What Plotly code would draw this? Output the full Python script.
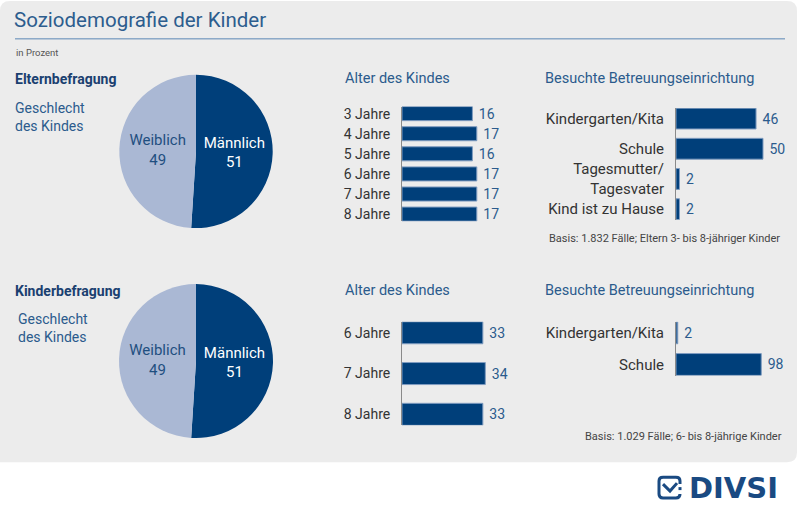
import plotly.graph_objects as go

# ---- data ----
gender_labels = ["Männlich", "Weiblich"]
gender_eltern = [51, 49]
gender_kinder = [51, 49]

age_eltern_cats = ["3 Jahre", "4 Jahre", "5 Jahre", "6 Jahre", "7 Jahre", "8 Jahre"]
age_eltern_vals = [16, 17, 16, 17, 17, 17]

care_eltern_cats = ["Kindergarten/Kita", "Schule", "Tagesmutter/<br>Tagesvater", "Kind ist zu Hause"]
care_eltern_vals = [46, 50, 2, 2]

age_kinder_cats = ["6 Jahre", "7 Jahre", "8 Jahre"]
age_kinder_vals = [33, 34, 33]

care_kinder_cats = ["Kindergarten/Kita", "Schule"]
care_kinder_vals = [2, 98]

W, H = 800, 514
NAVY = "#003f7a"
LIGHT = "#aab8d4"
BLUE_TXT = "#2b5b8c"
BG = "#ececec"
FONT = "Roboto"


def px(x):
    return x / W


def py(y):
    return 1 - y / H


fig = go.Figure()

# ---- pies ----
for vals, (y0, y1) in [(gender_eltern, (74, 228)), (gender_kinder, (284, 439))]:
    fig.add_trace(go.Pie(
        labels=gender_labels, values=vals, sort=False, direction="clockwise", rotation=0,
        marker=dict(colors=[NAVY, LIGHT], line=dict(width=0)),
        textinfo="label+value", texttemplate="%{label}<br>%{value}",
        textposition="inside", insidetextorientation="horizontal",
        insidetextfont=dict(color=["white", "#1f4f80"], size=15, family=FONT),
        domain=dict(x=[px(119), px(273)], y=[py(y1), py(y0)]),
        showlegend=False, hoverinfo="skip",
    ))

# ---- bar panels ----
panels = [
    # cats, vals, xdomain px, ydomain px, xrange, range pad, bargap, label size
    (age_eltern_cats, age_eltern_vals, (402, 490), (106, 221), 20, 0.35, 0.3, 14),
    (care_eltern_cats, care_eltern_vals, (676, 780.4), (107.4, 219.6), 60, 0.35, 0.31, 15),
    (age_kinder_cats, age_kinder_vals, (402, 500), (322, 426), 40, 0.27, 0.46, 14),
    (care_kinder_cats, care_kinder_vals, (676, 763), (322, 376), 100, 0.35, 0.31, 15),
]

layout_axes = {}
for i, (cats, vals, (x0, x1), (yt, yb), xr, pad, gap, fs) in enumerate(panels, start=1):
    xa = "x" if i == 1 else f"x{i}"
    ya = "y" if i == 1 else f"y{i}"
    fig.add_trace(go.Bar(
        x=vals, y=cats, orientation="h", xaxis=xa, yaxis=ya,
        marker=dict(color=NAVY, line=dict(color="#7f9cc0", width=1)),
        text=vals, texttemplate="\u00a0%{x}", textposition="outside",
        cliponaxis=False, constraintext="none",
        textfont=dict(color=BLUE_TXT, size=14, family=FONT),
        width=1 - gap, showlegend=False, hoverinfo="skip",
    ))
    n = len(cats)
    xkey = "xaxis" if i == 1 else f"xaxis{i}"
    ykey = "yaxis" if i == 1 else f"yaxis{i}"
    layout_axes[xkey] = dict(domain=[px(x0), px(x1)], range=[0, xr], visible=False,
                             anchor=ya, fixedrange=True)
    layout_axes[ykey] = dict(domain=[py(yb), py(yt)], range=[n - 1 + pad, -pad],
                             anchor=xa, type="category", showline=True,
                             linecolor="#8a8a8a", linewidth=1, showgrid=False,
                             zeroline=False, ticks="", ticklabelstandoff=8,
                             tickfont=dict(color="#333333", size=fs, family=FONT))

fig.update_layout(**layout_axes)

# ---- background panel with rounded corners ----
r = 10
x0, y0, x1, y1 = 0, 0, 797, 463
path = (f"M {px(x0)},{py(y0 + r)} Q {px(x0)},{py(y0)} {px(x0 + r)},{py(y0)} "
        f"L {px(x1 - r)},{py(y0)} Q {px(x1)},{py(y0)} {px(x1)},{py(y0 + r)} "
        f"L {px(x1)},{py(y1 - r)} Q {px(x1)},{py(y1)} {px(x1 - r)},{py(y1)} "
        f"L {px(x0)},{py(y1)} Z")
shapes = [
    dict(type="path", path=path, xref="paper", yref="paper", fillcolor=BG,
         line=dict(width=0), layer="below"),
    dict(type="line", xref="paper", yref="paper", x0=px(15), x1=px(785), y0=py(38), y1=py(38),
         line=dict(color="#5b87b5", width=1)),
]

# DIVSI logo icon
ix0, iy0, ix1, iy1, ir = 659, 478, 680, 499, 4
icon = (f"M {px(ix1)},{py(iy0 + 7)} L {px(ix1)},{py(iy0 + ir)} Q {px(ix1)},{py(iy0)} {px(ix1 - ir)},{py(iy0)} "
        f"L {px(ix0 + ir)},{py(iy0)} Q {px(ix0)},{py(iy0)} {px(ix0)},{py(iy0 + ir)} "
        f"L {px(ix0)},{py(iy1 - ir)} Q {px(ix0)},{py(iy1)} {px(ix0 + ir)},{py(iy1)} "
        f"L {px(ix1 - ir)},{py(iy1)} Q {px(ix1)},{py(iy1)} {px(ix1)},{py(iy1 - ir)} L {px(ix1)},{py(iy1 - 4)}")
shapes.append(dict(type="path", path=icon, xref="paper", yref="paper",
                   line=dict(color="#1a4a82", width=3)))
check = f"M {px(663)},{py(485)} L {px(670)},{py(492)} L {px(677)},{py(484)}"
shapes.append(dict(type="path", path=check, xref="paper", yref="paper",
                   line=dict(color="#1a4a82", width=3)))
shapes.append(dict(type="line", xref="paper", yref="paper", x0=px(680), x1=px(680),
                   y0=py(488), y1=py(491), line=dict(color="#1a4a82", width=3)))


def label(text, x, y, size=14, color=BLUE_TXT, xanchor="left", family=FONT):
    return dict(text=text, x=px(x), y=py(y), xref="paper", yref="paper", showarrow=False,
                xanchor=xanchor, yanchor="middle", align=xanchor,
                font=dict(size=size, color=color, family=family))


annotations = [
    label("Soziodemografie der Kinder", 12, 19, size=20.5, color="#2d5d8e"),
    label("in Prozent", 14, 52, size=9.5, color="#555555"),
    label("<b>Elternbefragung</b>", 13, 78, size=14, color="#1a4070"),
    label("Geschlecht<br>des Kindes", 13, 116, size=14),
    label("Alter des Kindes", 343, 78, size=14.5),
    label("Besuchte Betreuungseinrichtung", 543, 78, size=14.5),
    label("Basis: 1.832 Fälle; Eltern 3- bis 8-jähriger Kinder", 782, 238, size=11,
          color="#444444", xanchor="right"),
    label("<b>Kinderbefragung</b>", 13, 291, size=14, color="#1a4070"),
    label("Geschlecht<br>des Kindes", 16, 328, size=14),
    label("Alter des Kindes", 343, 291, size=14.5),
    label("Besuchte Betreuungseinrichtung", 543, 291, size=14.5),
    label("Basis: 1.029 Fälle; 6- bis 8-jährige Kinder", 784, 437, size=11,
          color="#444444", xanchor="right"),
    label("<b>DIVSI</b>", 687, 489, size=29, color="#1a4a82", family="DejaVu Sans"),
]

fig.update_layout(
    width=W, height=H, margin=dict(l=0, r=0, t=0, b=0),
    paper_bgcolor="white", plot_bgcolor="rgba(0,0,0,0)",
    font=dict(family=FONT), shapes=shapes, annotations=annotations,
    bargap=0.3,
)

fig.write_html("out.html", config={"displayModeBar": False},
               post_script="document.body.style.margin='0';")
